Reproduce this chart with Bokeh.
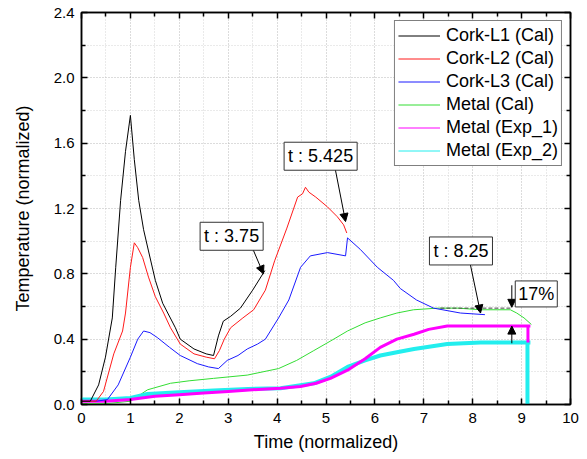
from bokeh.plotting import figure
from bokeh.embed import file_html
from bokeh.resources import INLINE
from bokeh.models import (Range1d, FixedTicker, PrintfTickFormatter, LinearAxis, Legend, LegendItem,
                          Arrow, NormalHead, Label)

FONT = "Liberation Sans"

# ---------------- data ----------------
black_x = [0, 0.18, 0.35, 0.49, 0.63, 0.70, 0.80, 0.90, 1.0, 1.08, 1.17, 1.27, 1.37, 1.51, 1.66, 1.92, 2.02,
           2.3, 2.55, 2.70, 2.80, 2.90, 3.05, 3.25, 3.5, 3.75]
black_y = [0.02, 0.02, 0.12, 0.29, 0.53, 0.84, 1.25, 1.55, 1.77, 1.50, 1.25, 1.07, 0.94, 0.76, 0.62, 0.47, 0.40,
           0.34, 0.31, 0.30, 0.42, 0.51, 0.54, 0.59, 0.70, 0.82]

red_x = [0, 0.3, 0.45, 0.66, 0.84, 0.90, 1.0, 1.08, 1.15, 1.25, 1.37, 1.51, 1.68, 1.82, 2.02, 2.3, 2.55, 2.72,
         2.82, 2.92, 3.05, 3.3, 3.52, 3.76, 3.95, 4.2, 4.42, 4.52, 4.58, 4.65, 4.79, 5.03, 5.23, 5.36, 5.425]
red_y = [0.02, 0.02, 0.08, 0.31, 0.45, 0.56, 0.84, 0.99, 0.96, 0.90, 0.78, 0.66, 0.56, 0.47, 0.37, 0.31, 0.29, 0.28,
         0.33, 0.40, 0.47, 0.53, 0.58, 0.70, 0.88, 1.08, 1.27, 1.29, 1.33, 1.30, 1.27, 1.21, 1.15, 1.10, 1.05]

blue_x = [0, 0.3, 0.53, 0.75, 1.0, 1.15, 1.27, 1.4, 1.55, 1.8, 2.02, 2.37, 2.6, 2.8, 2.98, 3.2, 3.39, 3.6, 3.76,
          4.03, 4.24, 4.48, 4.68, 5.03, 5.40, 5.44, 5.7, 6.05, 6.38, 6.52, 6.85, 7.2, 7.75, 8.25]
blue_y = [0.02, 0.02, 0.03, 0.12, 0.29, 0.40, 0.45, 0.44, 0.41, 0.35, 0.30, 0.25, 0.23, 0.22, 0.27, 0.30, 0.34, 0.37,
          0.40, 0.53, 0.64, 0.84, 0.91, 0.93, 0.91, 1.02, 0.95, 0.84, 0.76, 0.71, 0.64, 0.59, 0.56, 0.55]

green_x = [0, 0.5, 1.0, 1.35, 1.82, 2.2, 2.7, 3.39, 4.03, 4.4, 4.75, 5.1, 5.44, 5.8, 6.11, 6.45, 6.79, 7.28,
           7.7, 8.16, 8.5, 8.77, 8.9, 9.05, 9.2]
green_y = [0.005, 0.005, 0.02, 0.09, 0.13, 0.145, 0.16, 0.18, 0.22, 0.27, 0.33, 0.39, 0.45, 0.50, 0.53, 0.56,
           0.58, 0.59, 0.59, 0.58, 0.58, 0.58, 0.56, 0.53, 0.49]

mag_x = [0, 0.5, 1.0, 1.5, 2.0, 2.5, 3.0, 3.5, 4.07, 4.48, 4.8, 5.09, 5.44, 5.8, 6.11, 6.45, 6.8, 7.1, 7.48,
         7.8, 8.16, 8.6, 9.18, 9.13, 9.13]
mag_y = [0.02, 0.02, 0.03, 0.05, 0.06, 0.07, 0.08, 0.09, 0.10, 0.11, 0.13, 0.16, 0.21, 0.28, 0.35, 0.40, 0.43,
         0.46, 0.48, 0.48, 0.48, 0.48, 0.48, 0.48, 0.38]

cyan_x = [0, 0.5, 1.0, 1.35, 2.0, 2.7, 3.4, 4.07, 4.75, 5.1, 5.44, 5.8, 6.11, 6.45, 6.8, 7.48, 8.16, 8.7, 9.18,
          9.12, 9.12]
cyan_y = [0.03, 0.03, 0.04, 0.065, 0.075, 0.085, 0.095, 0.10, 0.13, 0.17, 0.23, 0.27, 0.30, 0.32, 0.34, 0.37,
          0.38, 0.38, 0.38, 0.38, 0.0]

series_labels = ["Cork-L1 (Cal)", "Cork-L2 (Cal)", "Cork-L3 (Cal)", "Metal (Cal)", "Metal (Exp_1)", "Metal (Exp_2)"]

x_ticks = list(range(0, 11))
x_minor = [i + 0.5 for i in range(0, 10)]
y_ticks = [0.0, 0.4, 0.8, 1.2, 1.6, 2.0, 2.4]
y_minor = [0.2, 0.6, 1.0, 1.4, 1.8, 2.2]

# annotations: (text, box centre x, box centre y, arrow start x, y, arrow end x, y)
time_notes = [
    ("t : 3.75", 3.07, 1.03, 3.50, 0.955, 3.72, 0.80),
    ("t : 5.425", 4.89, 1.52, 5.19, 1.44, 5.40, 1.12),
    ("t : 8.25", 7.76, 0.94, 7.95, 0.86, 8.16, 0.56),
]
pct_text = "17%"
pct_pos = (9.30, 0.677)
dash_x = [7.34, 8.80]
dash_y = [0.59, 0.59]
down_arrow = (8.80, 0.73, 8.80, 0.595)
up_arrow = (8.80, 0.375, 8.80, 0.48)

# ---------------- figure ----------------
p = figure(width=585, height=456, output_backend="svg", toolbar_location=None,
           x_range=Range1d(0, 10), y_range=Range1d(0, 2.4),
           min_border_left=81, min_border_top=12, min_border_right=15, min_border_bottom=52)
p.outline_line_color = "black"
p.outline_line_width = 1.5
p.background_fill_color = "white"

xt = FixedTicker(ticks=x_ticks, minor_ticks=x_minor)
yt = FixedTicker(ticks=y_ticks, minor_ticks=y_minor)

p.xaxis.ticker = xt
p.yaxis.ticker = yt
p.yaxis.formatter = PrintfTickFormatter(format="%.1f")
p.xaxis.formatter = PrintfTickFormatter(format="%d")

for ax in (p.xaxis[0], p.yaxis[0]):
    ax.axis_line_width = 1.5
    ax.major_tick_line_width = 1.5
    ax.minor_tick_line_width = 1.5
    ax.major_tick_in = 6
    ax.major_tick_out = 0
    ax.minor_tick_in = 4
    ax.minor_tick_out = 0
    ax.major_label_text_font = FONT
    ax.major_label_text_font_size = "15px"
    ax.major_label_text_color = "black"
    ax.axis_label_text_font = FONT
    ax.axis_label_text_font_size = "18px"
    ax.axis_label_text_font_style = "normal"
    ax.axis_label_text_color = "black"

p.xaxis.axis_label = "Time (normalized)"
p.yaxis.axis_label = "Temperature (normalized)"
p.xaxis.major_label_standoff = 8
p.xaxis.axis_label_standoff = 6
p.yaxis.major_label_standoff = 7
p.yaxis.axis_label_standoff = 18

for loc, tk in (("above", xt), ("right", yt)):
    ax = LinearAxis(ticker=tk, major_label_text_font_size="1px", major_label_text_color=None,
                    major_label_standoff=0,
                    axis_line_width=1.5, major_tick_line_width=1.5, minor_tick_line_width=1.5,
                    major_tick_in=6, major_tick_out=0, minor_tick_in=4, minor_tick_out=0)
    p.add_layout(ax, loc)

for g in (p.xgrid[0], p.ygrid[0]):
    g.grid_line_color = "#b8b8b8"
    g.grid_line_dash = "1 2"
    g.grid_line_width = 1
    g.minor_grid_line_color = "#d4d4d4"
    g.minor_grid_line_dash = "1 2"
    g.minor_grid_line_width = 1
p.xgrid.ticker = xt
p.ygrid.ticker = yt

# ---------------- curves ----------------
colors = ["black", "#ff1a1a", "#1a1aff", "#33dd33", "#ff00ff", "#22eeee"]
p.line(green_x, green_y, line_color=colors[3], line_width=1)
p.line(cyan_x, cyan_y, line_color=colors[5], line_width=4)
p.line(mag_x, mag_y, line_color=colors[4], line_width=3)
p.line(blue_x, blue_y, line_color=colors[2], line_width=1)
p.line(red_x, red_y, line_color=colors[1], line_width=1)
p.line(black_x, black_y, line_color=colors[0], line_width=1)

p.line(dash_x, dash_y, line_color="#444444", line_width=1, line_dash="4 2")

# legend with thin sample lines (renderers drawn outside the visible range)
items = []
for lab, c in zip(series_labels, colors):
    r = p.line([-5, -4], [-5, -4], line_color=c, line_width=1)
    items.append(LegendItem(label=lab, renderers=[r]))
legend = Legend(items=items, location="top_right", margin=8, padding=3, spacing=0,
                label_height=23, glyph_height=23, glyph_width=42, label_standoff=6,
                label_text_font=FONT, label_text_font_size="18px", label_text_color="black",
                border_line_color="black", border_line_width=1, background_fill_color="white",
                background_fill_alpha=1.0)
p.add_layout(legend)

# ---------------- annotations ----------------
def head():
    return NormalHead(size=8, fill_color="black", line_color="black", line_width=1)

for txt, bx, by, x0, y0, x1, y1 in time_notes:
    p.add_layout(Arrow(x_start=x0, y_start=y0, x_end=x1, y_end=y1, end=head(),
                       line_color="black", line_width=1))
    p.add_layout(Label(x=bx, y=by, text=txt, text_align="center", text_baseline="middle",
                       text_font=FONT, text_font_size="18px", text_color="black",
                       border_line_color="#333333", border_line_width=1,
                       background_fill_color="white", padding=4))

for (x0, y0, x1, y1) in (down_arrow, up_arrow):
    p.add_layout(Arrow(x_start=x0, y_start=y0, x_end=x1, y_end=y1, end=head(),
                       line_color="black", line_width=1))
p.add_layout(Label(x=pct_pos[0], y=pct_pos[1], text=pct_text, text_align="center", text_baseline="middle",
                   text_font=FONT, text_font_size="18px", text_color="black",
                   border_line_color="#333333", border_line_width=1,
                   background_fill_color="white", padding=3))

open("out.html", "w").write(file_html(p, INLINE))
